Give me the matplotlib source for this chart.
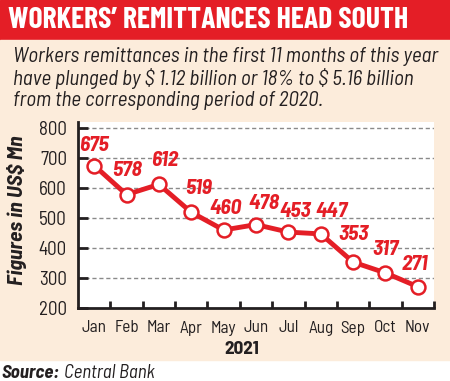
import matplotlib
matplotlib.use("Agg")
import matplotlib.pyplot as plt
from matplotlib.patches import Rectangle
from matplotlib.ticker import FixedLocator

months = ["Jan", "Feb", "Mar", "Apr", "May", "Jun", "Jul", "Aug", "Sep", "Oct", "Nov"]
values = [675, 578, 612, 519, 460, 478, 453, 447, 353, 317, 271]
yticks = [200, 300, 400, 500, 600, 700, 800]
title = "WORKERS\u2019 REMITTANCES HEAD SOUTH"
subtitle = ["Workers remittances in the first 11 months of this year",
            "have plunged by $ 1.12 billion or 18% to $ 5.16 billion",
            "from the corresponding period of 2020."]
year_label = "2021"
ylabel = "Figures in US$ Mn"

# label offsets in pixels (dx, dy)
offsets = [(0, 20), (0, 24), (6, 24), (7, 24), (2, 22), (8, 21), (7, 21), (11, 22), (0, 28), (0, 23), (-3, 22)]

FONT = ["Barlow Semi Condensed", "DejaVu Sans"]
TFONT = ["Barlow Condensed", "DejaVu Sans"]
RED = "#e41e26"
BEIGE = "#fcecdb"
INK = "#231f20"

W, H = 450, 381
fig = plt.figure(figsize=(W / 100, H / 100), dpi=100)
fig.patch.set_facecolor("white")
renderer = fig.canvas.get_renderer()


def size_for(text, width, **kw):
    t = fig.text(0, 0, text, fontsize=10, parse_math=False, **kw)
    w = t.get_window_extent(renderer).width
    t.remove()
    return 10 * width / w


# backgrounds
fig.add_artist(Rectangle((0, 1 - 40 / H), 1, 40 / H, transform=fig.transFigure, color=RED, zorder=0))
fig.add_artist(Rectangle((0, 1 - 360 / H), 1, (360 - 40) / H, transform=fig.transFigure, color=BEIGE, zorder=0))

ts = size_for(title, 402, family=TFONT, fontweight="bold")
fig.text(8 / W, 1 - 21 / H, title, color="white", fontsize=ts, fontweight="bold",
         family=TFONT, va="center", ha="left", parse_math=False)
ss = size_for(subtitle[0], 426, family=FONT, style="italic")
for i, line in enumerate(subtitle):
    fig.text(13 / W, 1 - (56 + i * 22.5) / H, line, color=INK, fontsize=ss,
             style="italic", family=FONT, va="center", ha="left", parse_math=False)

ax = fig.add_axes([78 / W, 73 / H, (434 - 78) / W, (308 - 122) / H])
ax.set_facecolor("white")
x = list(range(len(months)))
ax.plot(x, values, color=RED, lw=3.5, marker="o", ms=10, mfc="white", mec=RED, mew=1.8,
        zorder=3, solid_joinstyle="round")
ls_ = size_for("675", 30, family=FONT, fontweight="bold", style="italic")
for xi, v, (dx, dy) in zip(x, values, offsets):
    ax.annotate(str(v), (xi, v), xytext=(dx, dy), textcoords="offset pixels",
                ha="center", va="center", color=RED, fontsize=ls_, fontweight="bold",
                style="italic", family=FONT, zorder=4)

ax.set_xlim(-0.5, len(months) - 0.5)
ax.set_ylim(200, 820)
ax.set_yticks(yticks)
for t in yticks[1:]:
    ax.axhline(t, color="#8a8a8a", lw=1, ls=(0, (3, 2)), zorder=1)
ys = size_for("800", 28, family=FONT)
ax.set_yticklabels([str(t) for t in yticks], family=FONT, fontsize=ys, color=INK)
ax.tick_params(axis="y", direction="in", length=7, width=2, pad=8, color=INK)

ms_ = size_for("Jan", 25, family=FONT)
ax.set_xticks(x)
ax.set_xticklabels(months, family=FONT, fontsize=ms_, color=INK)
ax.tick_params(axis="x", which="major", length=0, pad=9)
ax.xaxis.set_minor_locator(FixedLocator([i + 0.5 for i in range(len(months))]))
ax.tick_params(axis="x", which="minor", direction="in", length=5, width=2, color=INK)

for s in ["top", "right"]:
    ax.spines[s].set_visible(False)
for s in ["left", "bottom"]:
    ax.spines[s].set_linewidth(2)
    ax.spines[s].set_color(INK)

yl = size_for(ylabel, 150, family=FONT, fontweight="bold", style="italic")
fig.text(17 / W, 1 - 210 / H, ylabel, rotation=90, ha="center", va="center",
         fontsize=yl, fontweight="bold", style="italic", family=FONT, color=INK,
         parse_math=False)
yr = size_for(year_label, 35, family=FONT, fontweight="bold")
fig.text(242 / W, 1 - 350 / H, year_label, ha="center", va="center",
         fontsize=yr, fontweight="bold", family=FONT, color=INK)

src = size_for("Central Bank", 91, family=FONT, style="italic")
t1 = fig.text(1 / W, 1 - 373 / H, "Source:", ha="left", va="center",
              fontsize=src, fontweight="bold", style="italic", family=FONT, color=INK)
bb = t1.get_window_extent(renderer)
fig.text((bb.x1 + 5) / W, 1 - 373 / H, "Central Bank", ha="left", va="center",
         fontsize=src, style="italic", family=FONT, color=INK)

fig.savefig("out.png", dpi=100)
